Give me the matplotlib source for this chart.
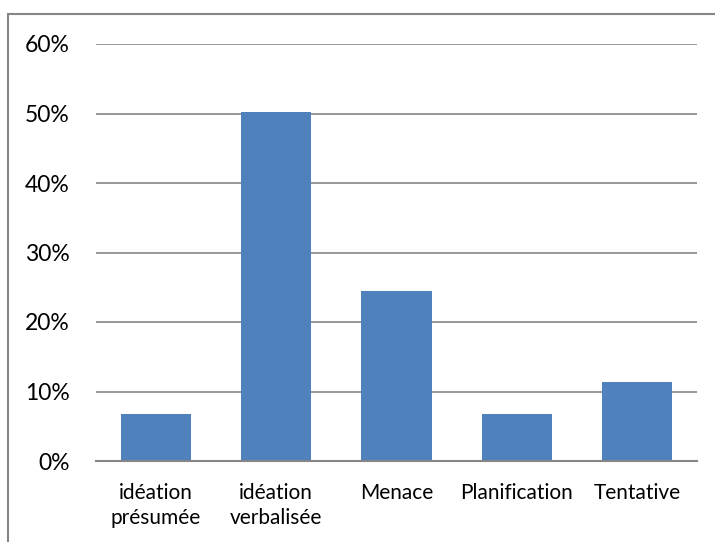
import matplotlib
matplotlib.use('Agg')
from matplotlib import pyplot as plt
from matplotlib.patches import Rectangle
from matplotlib.ticker import FuncFormatter

# Data
categories = ['idéation\nprésumée', 'idéation\nverbalisée', 'Menace', 'Planification', 'Tentative']
values = [0.068, 0.502, 0.245, 0.068, 0.114]
yticks = [0, 0.1, 0.2, 0.3, 0.4, 0.5, 0.6]

plt.rcParams['font.family'] = ['Lato', 'DejaVu Sans']
plt.rcParams['font.size'] = 15

W, H = 715, 542
fig = plt.figure(figsize=(W / 100, H / 100), dpi=100)
ax = fig.add_axes([96 / W, (H - 461) / H, (697 - 96) / W, (461 - 44) / H])

x = range(len(categories))
ax.bar(x, values, width=0.585, color='#4F81BD', zorder=3)

ax.set_xlim(-0.5, len(categories) - 0.5)
ax.set_ylim(0, 0.6)
ax.set_yticks(yticks)
ax.yaxis.set_major_formatter(FuncFormatter(lambda v, p: f'{v * 100:.0f}%'))
ax.set_xticks(list(x))
ax.set_xticklabels(categories, linespacing=1.3)

ax.grid(axis='y', color='#868686', linewidth=1.2, zorder=0)
for s in ['top', 'right', 'left']:
    ax.spines[s].set_visible(False)
ax.spines['bottom'].set_color('#868686')
ax.spines['bottom'].set_linewidth(1.5)
ax.spines['bottom'].set_zorder(4)
ax.tick_params(axis='y', length=0, pad=19, labelsize=16.5)
ax.tick_params(axis='x', length=0, pad=16, labelsize=15)

# chart frame
fig.patches.append(Rectangle((8 / W, -0.1), 1.2, (H - 14) / H + 0.1,
                             transform=fig.transFigure, fill=False,
                             edgecolor='#868686', linewidth=1.5))

fig.savefig('out.png', dpi=100)
